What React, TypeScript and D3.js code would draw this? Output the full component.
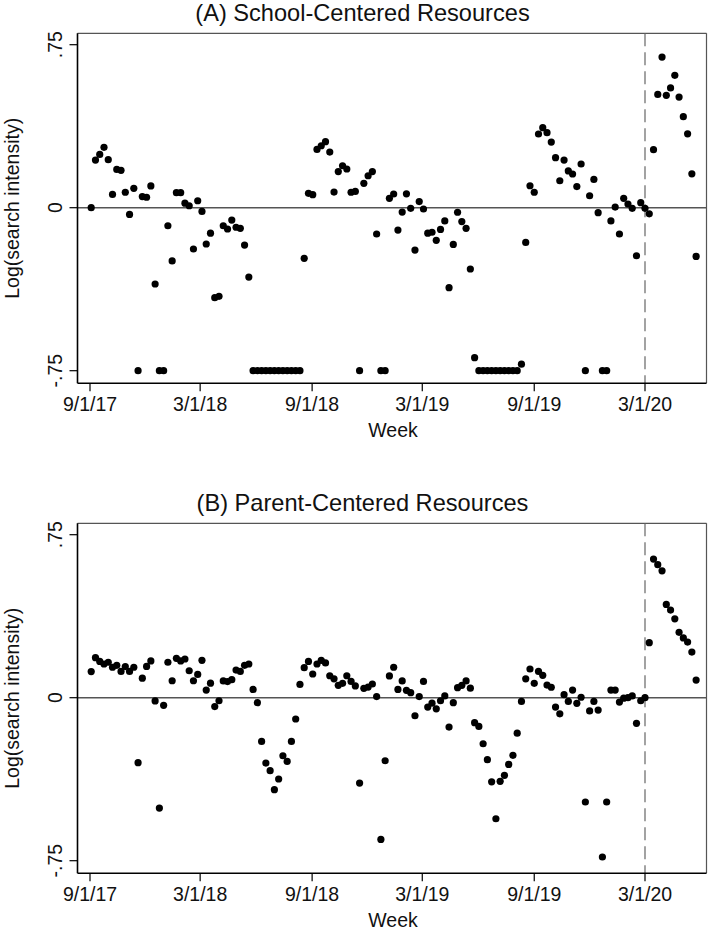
import React from "react";
import * as d3 from "d3";

const FIRST_WEEK = Date.UTC(2017, 8, 3);
const WEEK_MS = 7 * 24 * 3600 * 1000;

const schoolValues: number[] = [
  0, 0.219, 0.245, 0.278, 0.221, 0.061, 0.176, 0.172, 0.071, -0.031,
  0.089, -0.75, 0.051, 0.048, 0.1, -0.351, -0.75, -0.75, -0.083, -0.245,
  0.069, 0.069, 0.021, 0.009, -0.19, 0.032, -0.017, -0.167, -0.117, -0.414,
  -0.408, -0.083, -0.098, -0.057, -0.09, -0.095, -0.172, -0.319, -0.75, -0.75,
  -0.75, -0.75, -0.75, -0.75, -0.75, -0.75, -0.75, -0.75, -0.75, -0.75,
  -0.233, 0.066, 0.06, 0.268, 0.285, 0.304, 0.256, 0.072, 0.166, 0.193,
  0.178, 0.071, 0.075, -0.75, 0.112, 0.147, 0.166, -0.121, -0.75, -0.75,
  0.043, 0.063, -0.103, -0.02, 0.064, -0.003, -0.195, 0.028, -0.006, -0.117,
  -0.113, -0.15, -0.1, -0.061, -0.368, -0.169, -0.021, -0.064, -0.095, -0.282,
  -0.69, -0.75, -0.75, -0.75, -0.75, -0.75, -0.75, -0.75, -0.75, -0.75,
  -0.75, -0.72, -0.16, 0.101, 0.071, 0.339, 0.368, 0.345, 0.302, 0.23,
  0.124, 0.219, 0.169, 0.155, 0.097, 0.201, -0.75, 0.055, 0.13, -0.023,
  -0.75, -0.75, -0.061, 0.003, -0.121, 0.043, 0.017, -0.003, -0.221, 0.023,
  -0.003, -0.028, 0.267, 0.521, 0.693, 0.517, 0.551, 0.609, 0.509, 0.419,
  0.34, 0.156, -0.224,
];

const parentValues: number[] = [
  0.12, 0.184, 0.167, 0.155, 0.163, 0.14, 0.149, 0.121, 0.143, 0.121,
  0.14, -0.299, 0.09, 0.144, 0.169, -0.015, -0.508, -0.035, 0.163, 0.078,
  0.181, 0.169, 0.178, 0.124, 0.078, 0.107, 0.172, 0.035, 0.067, -0.041,
  -0.014, 0.077, 0.074, 0.083, 0.127, 0.121, 0.149, 0.155, 0.038, -0.023,
  -0.201, -0.301, -0.336, -0.423, -0.374, -0.267, -0.293, -0.201, -0.098, 0.061,
  0.138, 0.167, 0.109, 0.155, 0.172, 0.16, 0.101, 0.087, 0.057, 0.066,
  0.101, 0.075, 0.054, -0.393, 0.043, 0.049, 0.063, 0.005, -0.652, -0.29,
  0.1, 0.14, 0.038, 0.077, 0.034, 0.023, -0.083, 0.005, 0.075, -0.043,
  -0.025, -0.051, -0.014, 0.008, -0.135, -0.023, 0.046, 0.057, 0.077, 0.044,
  -0.115, -0.132, -0.212, -0.285, -0.387, -0.557, -0.385, -0.357, -0.307, -0.265,
  -0.163, -0.017, 0.087, 0.132, 0.066, 0.121, 0.103, 0.058, 0.048, -0.043,
  -0.074, 0.014, -0.017, 0.035, -0.026, 0.002, -0.48, -0.061, -0.017, -0.057,
  -0.733, -0.48, 0.035, 0.035, -0.02, -0.002, 0, 0.008, -0.118, -0.014,
  0, 0.253, 0.638, 0.612, 0.584, 0.429, 0.403, 0.363, 0.301, 0.275,
  0.256, 0.21, 0.081,
];

const xTickDates = [
  new Date(Date.UTC(2017, 8, 1)),
  new Date(Date.UTC(2018, 2, 1)),
  new Date(Date.UTC(2018, 8, 1)),
  new Date(Date.UTC(2019, 2, 1)),
  new Date(Date.UTC(2019, 8, 1)),
  new Date(Date.UTC(2020, 2, 1)),
];
const xTickLabels = ["9/1/17", "3/1/18", "9/1/18", "3/1/19", "9/1/19", "3/1/20"];
const yTickValues = [0.75, 0, -0.75];
const yTickLabels = [".75", "0", "-.75"];
const covidDate = new Date(Date.UTC(2020, 2, 1));

const panelTitles = ["(A) School-Centered Resources", "(B) Parent-Centered Resources"];

const FONT = "'Liberation Sans', Arial, Helvetica, sans-serif";

const BOX_LEFT = 77.5;
const BOX_RIGHT = 706.5;
const BOX_TOP = 33.3;
const BOX_BOTTOM = 383.3;

const x = d3
  .scaleUtc()
  .domain([new Date(Date.UTC(2017, 8, 1)), new Date(Date.UTC(2020, 2, 1))])
  .range([90, 645]);

const y = d3.scaleLinear().domain([-0.75, 0.75]).range([370.7, 44.7]);

function Panel({ title, values, offsetY }: { title: string; values: number[]; offsetY: number }) {
  const pts = values.map((v, i) => ({ date: new Date(FIRST_WEEK + i * WEEK_MS), v }));
  return (
    <g transform={`translate(0,${offsetY})`}>
      <text x={362.5} y={20.5} textAnchor="middle" fontSize={23.6} fontFamily={FONT} fill="#111">
        {title}
      </text>
      <line x1={BOX_LEFT} x2={BOX_RIGHT} y1={BOX_TOP} y2={BOX_TOP} stroke="#555" strokeWidth={1.2} />
      <line x1={BOX_RIGHT} x2={BOX_RIGHT} y1={BOX_TOP} y2={BOX_BOTTOM} stroke="#555" strokeWidth={1.2} />
      <line x1={BOX_LEFT} x2={BOX_RIGHT} y1={y(0)} y2={y(0)} stroke="#555" strokeWidth={1.5} />
      <line
        x1={x(covidDate)}
        x2={x(covidDate)}
        y1={BOX_TOP}
        y2={BOX_BOTTOM}
        stroke="#666"
        strokeWidth={1.2}
        strokeDasharray="13,6"
      />
      <line x1={BOX_LEFT} x2={BOX_LEFT} y1={BOX_TOP} y2={BOX_BOTTOM} stroke="#000" strokeWidth={1.6} />
      <line x1={BOX_LEFT} x2={BOX_RIGHT} y1={BOX_BOTTOM} y2={BOX_BOTTOM} stroke="#000" strokeWidth={1.6} />
      {yTickValues.map((t, i) => (
        <g key={t}>
          <line x1={BOX_LEFT - 8} x2={BOX_LEFT} y1={y(t)} y2={y(t)} stroke="#000" strokeWidth={1.2} />
          <text
            transform={`translate(61.5,${y(t)}) rotate(-90)`}
            textAnchor="middle"
            fontSize={19.5}
            fontFamily={FONT}
            fill="#111"
          >
            {yTickLabels[i]}
          </text>
        </g>
      ))}
      {xTickDates.map((d, i) => (
        <g key={i}>
          <line x1={x(d)} x2={x(d)} y1={BOX_BOTTOM} y2={BOX_BOTTOM + 8} stroke="#000" strokeWidth={1.2} />
          <text x={x(d)} y={410.5} textAnchor="middle" fontSize={19.5} fontFamily={FONT} fill="#111">
            {xTickLabels[i]}
          </text>
        </g>
      ))}
      <text x={393} y={436.7} textAnchor="middle" fontSize={19.5} fontFamily={FONT} fill="#111">
        Week
      </text>
      <text
        transform={`translate(19,${(BOX_TOP + BOX_BOTTOM) / 2}) rotate(-90)`}
        textAnchor="middle"
        fontSize={19.5}
        fontFamily={FONT}
        fill="#111"
      >
        Log(search intensity)
      </text>
      {pts.map((p, i) => (
        <circle key={i} cx={x(p.date)} cy={y(p.v)} r={3.6} fill="#000" />
      ))}
    </g>
  );
}

export default function App() {
  return (
    <svg
      width={709}
      height={934}
      viewBox="0 0 709 934"
      style={{ position: "absolute", left: 0, top: 0, background: "#fff" }}
    >
      <rect x={0} y={0} width={709} height={934} fill="#fff" />
      <Panel title={panelTitles[0]} values={schoolValues} offsetY={0} />
      <Panel title={panelTitles[1]} values={parentValues} offsetY={490} />
    </svg>
  );
}
